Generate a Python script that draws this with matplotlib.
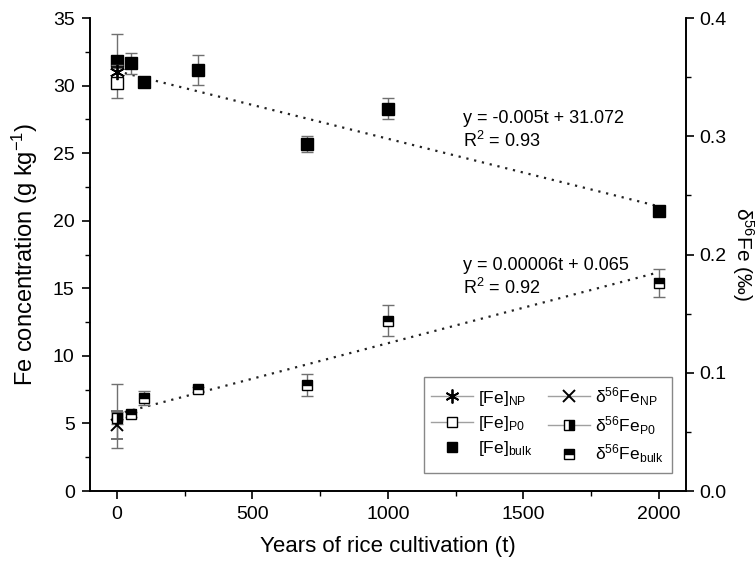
import numpy as np
import matplotlib.pyplot as plt
from matplotlib.ticker import MultipleLocator

plt.rcParams['font.family'] = ['Liberation Sans', 'DejaVu Sans']
plt.rcParams['mathtext.fontset'] = 'custom'
plt.rcParams['mathtext.rm'] = 'Liberation Sans'
plt.rcParams['mathtext.it'] = 'Liberation Sans:italic'

# data (years, Fe g/kg, delta56Fe permil)
t = [0, 50, 100, 300, 700, 1000, 2000]
fe_bulk = [31.85, 31.65, 30.3, 31.15, 25.7, 28.3, 20.75]
fe_bulk_err = [2.0, 0.75, 0.35, 1.1, 0.6, 0.8, 0.2]
fe_np = [31.0]
fe_np_err = [0.5]
fe_p0 = [30.2]
fe_p0_err = [1.1]

d_bulk = [0.0634, 0.065, 0.0784, 0.086, 0.0897, 0.144, 0.176]
d_bulk_err = [0.027, 0.002, 0.006, 0.002, 0.009, 0.013, 0.012]
d_np = [0.056]
d_np_err = [0.012]
d_p0 = [0.062]
d_p0_err = [0.005]

fit_t = [0, 2000]
fe_fit = [31.072 - 0.005 * x for x in fit_t]
d_fit = [0.065 + 0.00006 * x for x in fit_t]

fig = plt.figure(figsize=(7.56, 5.66), dpi=100)
ax = fig.add_axes([0.119, 0.1325, 0.788, 0.8355])
ax2 = ax.twinx()

ecol = '#707070'
ms = 8
dot = (0, (1, 2.6))
ast = (6, 2, 0)

ax.plot(fit_t, fe_fit, ls=dot, color='#222222', lw=1.6, zorder=1)
ax2.plot(fit_t, d_fit, ls=dot, color='#222222', lw=1.6, zorder=1)

ax.errorbar(t, fe_bulk, yerr=fe_bulk_err, fmt='s', color='black', ms=ms,
            ecolor=ecol, elinewidth=1, capsize=4, zorder=3)
ax.errorbar([0], fe_np, yerr=fe_np_err, fmt='none', ecolor=ecol, elinewidth=1, capsize=4, zorder=4)
ax.plot([0], fe_np, ls='none', marker=ast, color='black', ms=11, mew=1.3, zorder=5)
ax.errorbar([0], fe_p0, yerr=fe_p0_err, fmt='s', mfc='white', mec='black', ms=ms,
            ecolor=ecol, elinewidth=1, capsize=4, zorder=4)

ax2.errorbar(t, d_bulk, yerr=d_bulk_err, fmt='s', color='black', fillstyle='top',
             markerfacecoloralt='white', ms=7.5, ecolor=ecol, elinewidth=1, capsize=4, zorder=3)
ax2.errorbar([0], d_np, yerr=d_np_err, fmt='x', color='black', ms=9, mew=1.4,
             ecolor=ecol, elinewidth=1, capsize=4, zorder=4)
ax2.errorbar([0], d_p0, yerr=d_p0_err, fmt='s', color='black', fillstyle='right',
             markerfacecoloralt='white', ms=7.5, ecolor=ecol, elinewidth=1, capsize=4, zorder=4)

ax.set_xlim(-100, 2100)
ax.set_ylim(0, 35)
ax2.set_ylim(0, 0.4)
ax.xaxis.set_major_locator(MultipleLocator(500))
ax.xaxis.set_minor_locator(MultipleLocator(250))
ax.yaxis.set_major_locator(MultipleLocator(5))
ax.yaxis.set_minor_locator(MultipleLocator(2.5))
ax2.yaxis.set_major_locator(MultipleLocator(0.1))
ax2.yaxis.set_minor_locator(MultipleLocator(0.05))
ax2.yaxis.set_major_formatter(plt.FormatStrFormatter('%.1f'))

for a in (ax, ax2):
    a.spines['top'].set_visible(False)
    for s in a.spines.values():
        s.set_linewidth(1.2)
    a.tick_params(which='major', direction='out', length=6, width=1.2, labelsize=14, pad=5)
    a.tick_params(which='minor', direction='out', length=3.5, width=1.0)
ax.tick_params(axis='y', which='both', right=False)
ax2.tick_params(axis='y', which='major', pad=4)

ax.set_xlabel('Years of rice cultivation (t)', fontsize=16, labelpad=9)
ax.set_ylabel('Fe concentration (g kg$^{-1}$)', fontsize=17, labelpad=9)
ax2.set_ylabel('$\\mathrm{\\delta}^{56}$Fe (‰)', fontsize=15, rotation=270, labelpad=21)

ax.text(1276, 26.65, 'y = -0.005t + 31.072\nR$^2$ = 0.93', fontsize=13, va='center', linespacing=1.25)
ax.text(1276, 15.8, 'y = 0.00006t + 0.065\nR$^2$ = 0.92', fontsize=13, va='center', linespacing=1.25)

# legend handles
lc = '#a0a0a0'
h_np = plt.Line2D([], [], color=lc, lw=1, marker=ast, mec='black', ms=10, mew=1.3)
h_p0 = plt.Line2D([], [], color=lc, lw=1, marker='s', mfc='white', mec='black', ms=7)
h_bulk = plt.Line2D([], [], ls='none', marker='s', color='black', ms=7.5)
h_dnp = plt.Line2D([], [], color=lc, lw=1, marker='x', mec='black', ms=8, mew=1.4)
h_dp0 = plt.Line2D([], [], color=lc, lw=1, marker='s', mec='black', mfc='black',
                   fillstyle='right', markerfacecoloralt='white', ms=7)
h_dbulk = plt.Line2D([], [], ls='none', marker='s', mec='black', mfc='black',
                     fillstyle='top', markerfacecoloralt='white', ms=7)
labels = ['[Fe]$_{\\mathrm{NP}}$', '[Fe]$_{\\mathrm{P0}}$', '[Fe]$_{\\mathrm{bulk}}$',
          '$\\mathrm{\\delta}^{56}$Fe$_{\\mathrm{NP}}$', '$\\mathrm{\\delta}^{56}$Fe$_{\\mathrm{P0}}$',
          '$\\mathrm{\\delta}^{56}$Fe$_{\\mathrm{bulk}}$']
leg = ax2.legend([h_np, h_p0, h_bulk, h_dnp, h_dp0, h_dbulk], labels, ncol=2,
                 loc='lower right', bbox_to_anchor=(0.9765, 0.038), borderaxespad=0,
                 fontsize=12.5, fancybox=False, edgecolor='#888888', framealpha=1,
                 handlelength=2.4, handletextpad=0.3, columnspacing=0.9,
                 labelspacing=0.35, borderpad=0.45)
leg.get_frame().set_linewidth(1.0)

fig.savefig('out.png', dpi=100)
